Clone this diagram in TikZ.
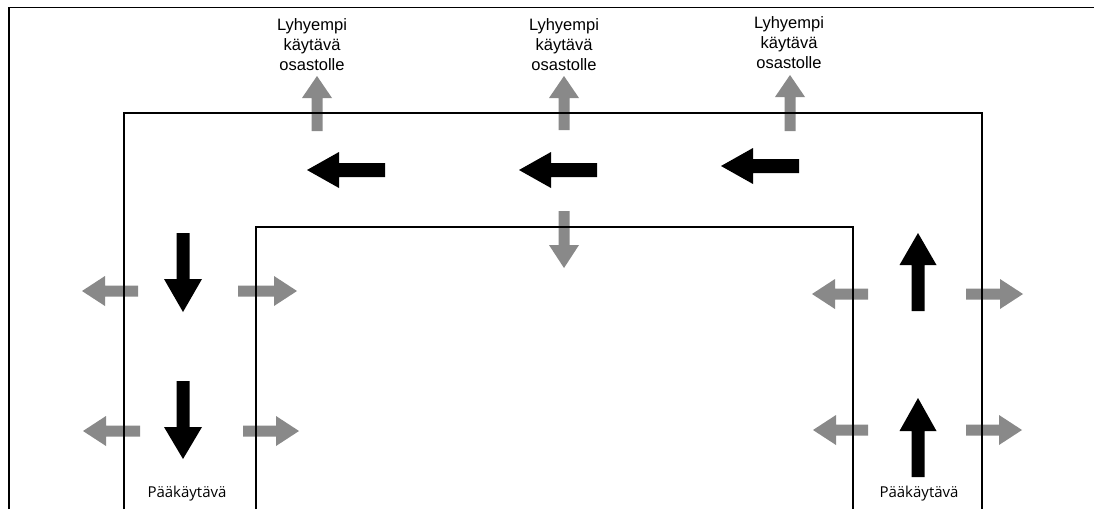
\documentclass[tikz,border=0pt]{standalone}
\usepackage{fontspec}
\setmainfont{Liberation Sans}
\newfontfamily\labelfont{Open Sans}
\usetikzlibrary{calc}

\definecolor{sidegray}{RGB}{137,137,137}

% Block arrow: #1 fill style, #2 tail, #3 tip,
% #4 half shaft width, #5 half head width, #6 head length
\newcommand\blockarrow[6]{%
  \coordinate (ba-t) at #2;
  \coordinate (ba-p) at #3;
  \coordinate (ba-h) at ($(ba-p)!#6!(ba-t)$);
  \fill[#1] ($(ba-t)!#4!90:(ba-p)$) -- ($(ba-h)!#4!90:(ba-p)$)
    -- ($(ba-h)!#5!90:(ba-p)$) -- (ba-p) -- ($(ba-h)!#5!-90:(ba-p)$)
    -- ($(ba-h)!#4!-90:(ba-p)$) -- ($(ba-t)!#4!-90:(ba-p)$) -- cycle;}

\tikzset{
  wall/.style={line width=1.2pt, black, line join=miter},
  frame/.style={line width=1.8pt, black},
  branchlabel/.style={inner sep=0pt, anchor=north, align=center,
    font={\fontsize{16.5}{20}\selectfont}},
  mainlabel/.style={inner sep=0pt, anchor=base,
    font={\labelfont\fontsize{15}{18}\selectfont}},
}

\begin{document}
\begin{tikzpicture}[x=1pt, y=-1pt]
\useasboundingbox (0,0) rectangle (1094,509);

% side exits (grey)
\blockarrow{sidegray}{(317,131)}{(317,76)}{5.5pt}{15pt}{22pt}
\blockarrow{sidegray}{(564,130)}{(564,76)}{5.5pt}{15pt}{22pt}
\blockarrow{sidegray}{(790,131)}{(790,75)}{5.5pt}{15pt}{22pt}
\blockarrow{sidegray}{(564,211)}{(564,268)}{5.5pt}{15pt}{23pt}

\blockarrow{sidegray}{(138,291)}{(82,291)}{5.5pt}{15pt}{23pt}
\blockarrow{sidegray}{(238,291)}{(297,291)}{5.5pt}{15pt}{23pt}
\blockarrow{sidegray}{(140,431)}{(83,431)}{5.5pt}{15pt}{23pt}
\blockarrow{sidegray}{(243,431)}{(299,431)}{5.5pt}{15pt}{23pt}

\blockarrow{sidegray}{(868,294)}{(812,294)}{5.5pt}{15pt}{23pt}
\blockarrow{sidegray}{(966,294)}{(1023,294)}{5.5pt}{15pt}{23pt}
\blockarrow{sidegray}{(868,430)}{(813,430)}{5.5pt}{15pt}{23pt}
\blockarrow{sidegray}{(966,430)}{(1022,430)}{5.5pt}{15pt}{23pt}

% main direction of travel (black)
\blockarrow{black}{(385,170)}{(307,170)}{7pt}{18pt}{32pt}
\blockarrow{black}{(597,170)}{(519,170)}{7pt}{18pt}{32pt}
\blockarrow{black}{(799,166)}{(721,166)}{7pt}{18pt}{32pt}

\blockarrow{black}{(183,233)}{(183,312)}{6.5pt}{19pt}{33pt}
\blockarrow{black}{(183,381)}{(183,459)}{6.5pt}{19pt}{32pt}

\blockarrow{black}{(918,311)}{(918,233)}{6.5pt}{18.5pt}{32pt}
\blockarrow{black}{(918,477)}{(918,398)}{6.5pt}{18.5pt}{33pt}

% frame
\draw[frame] (9,509) -- (9,7.5) -- (1094,7.5);

% corridor walls
\draw[wall] (124,509) -- (124,113) -- (982,113) -- (982,509);
\draw[wall] (256,509) -- (256,227) -- (853,227) -- (853,509);

% labels
\node[branchlabel] (branch1) at (312,18) {Lyhyempi\\käytävä\\osastolle};
\node[branchlabel] (branch2) at (564,18) {Lyhyempi\\käytävä\\osastolle};
\node[branchlabel] (branch3) at (789,16) {Lyhyempi\\käytävä\\osastolle};

\node[mainlabel] (mainleft) at (187,497.5) {Pääkäytävä};
\node[mainlabel] (mainright) at (919,497.5) {Pääkäytävä};
\end{tikzpicture}
\end{document}
